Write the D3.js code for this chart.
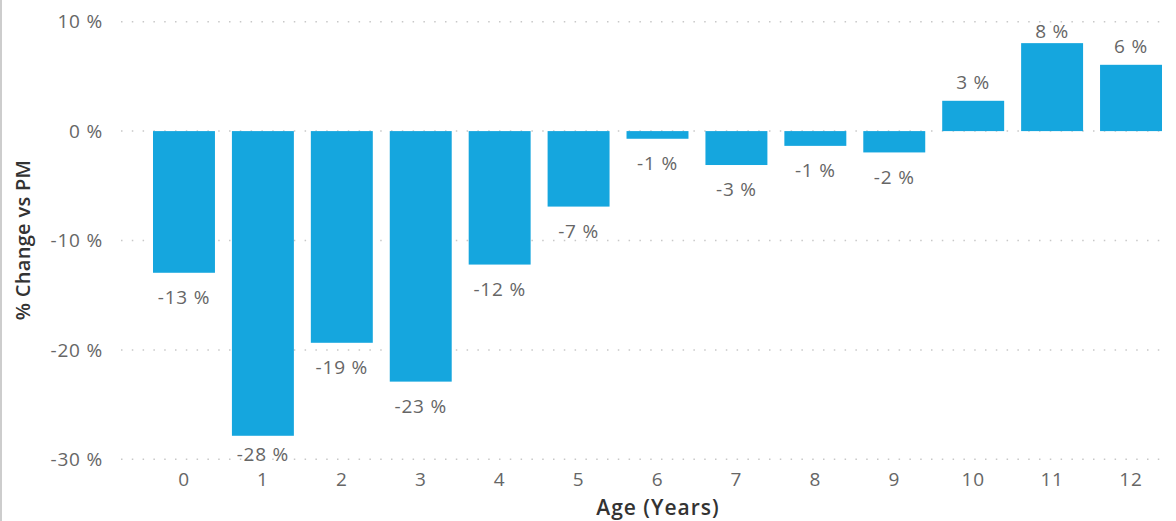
<!DOCTYPE html>
<html>
<head>
<meta charset="utf-8">
<script src="https://cdn.jsdelivr.net/npm/d3@7"></script>
<style>
  html, body { margin: 0; padding: 0; background: #fff; }
  svg { display: block; font-family: "Open Sans", sans-serif; }
</style>
</head>
<body>
<div id="chart"></div>
<script>
// Data
const ages = ["0", "1", "2", "3", "4", "5", "6", "7", "8", "9", "10", "11", "12"];
const changes = [-12.95, -27.85, -19.35, -22.9, -12.2, -6.9, -0.7, -3.1, -1.35, -1.95, 2.77, 8.04, 6.06];
const yTicks = [10, 0, -10, -20, -30];

const width = 1176;
const height = 521;

const svg = d3.select("#chart").append("svg")
  .attr("width", width)
  .attr("height", height);

// left border line
svg.append("line")
  .attr("x1", 1).attr("x2", 1)
  .attr("y1", 0).attr("y2", height)
  .attr("stroke", "#bdbdbd")
  .attr("stroke-width", 1.5);

// Scales
const x = d3.scaleBand()
  .domain(ages)
  .range([153, 1162])
  .paddingInner(0.215)
  .paddingOuter(0);

const y = d3.scaleLinear()
  .domain([-30, 10])
  .range([459.3, 21.7]);

// Gridlines
svg.append("g")
  .selectAll("line")
  .data(yTicks)
  .join("line")
    .attr("x1", 121)
    .attr("x2", 1166)
    .attr("y1", d => y(d))
    .attr("y2", d => y(d))
    .attr("stroke", "#c8c8c8")
    .attr("stroke-width", 1.5)
    .attr("stroke-dasharray", "1.5,9.3");

const labelStyle = sel => sel
  .attr("fill", "#666")
  .style("font-size", "19px")
  .style("letter-spacing", "0.8px");

// Y axis labels
svg.append("g")
  .attr("text-anchor", "end")
  .selectAll("text")
  .data(yTicks)
  .join("text")
    .attr("x", 103)
    .attr("y", d => y(d))
    .attr("dy", "0.35em")
    .call(labelStyle)
    .text(d => d + " %");

// Bars
svg.append("g")
  .selectAll("rect")
  .data(changes)
  .join("rect")
    .attr("x", (d, i) => x(ages[i]))
    .attr("width", x.bandwidth())
    .attr("y", d => y(Math.max(0, d)))
    .attr("height", d => Math.abs(y(d) - y(0)))
    .attr("fill", "#15a6de");

// Value labels (below negative bars, above positive ones, kept inside the plot)
svg.append("g")
  .attr("text-anchor", "middle")
  .selectAll("text")
  .data(changes)
  .join("text")
    .attr("x", (d, i) => x(ages[i]) + x.bandwidth() / 2)
    .attr("y", d => d < 0 ? Math.min(454, y(d) + 24.5) : Math.max(31.5, y(d) - 18))
    .attr("dy", "0.35em")
    .call(labelStyle)
    .text(d => Math.round(d) + " %");

// X axis labels
svg.append("g")
  .attr("text-anchor", "middle")
  .selectAll("text")
  .data(ages)
  .join("text")
    .attr("x", d => x(d) + x.bandwidth() / 2)
    .attr("y", 479)
    .attr("dy", "0.35em")
    .call(labelStyle)
    .text(d => d);

// Axis titles
svg.append("text")
  .attr("x", 658)
  .attr("y", 508)
  .attr("dy", "0.35em")
  .attr("text-anchor", "middle")
  .attr("fill", "#333")
  .style("font-size", "21px")
  .style("font-weight", 600)
  .style("letter-spacing", "1px")
  .text("Age (Years)");

svg.append("text")
  .attr("transform", "translate(23,240) rotate(-90)")
  .attr("dy", "0.35em")
  .attr("text-anchor", "middle")
  .attr("fill", "#333")
  .style("font-size", "20px")
  .style("font-weight", 600)
  .style("letter-spacing", "0.3px")
  .text("% Change vs PM");
</script>
</body>
</html>
